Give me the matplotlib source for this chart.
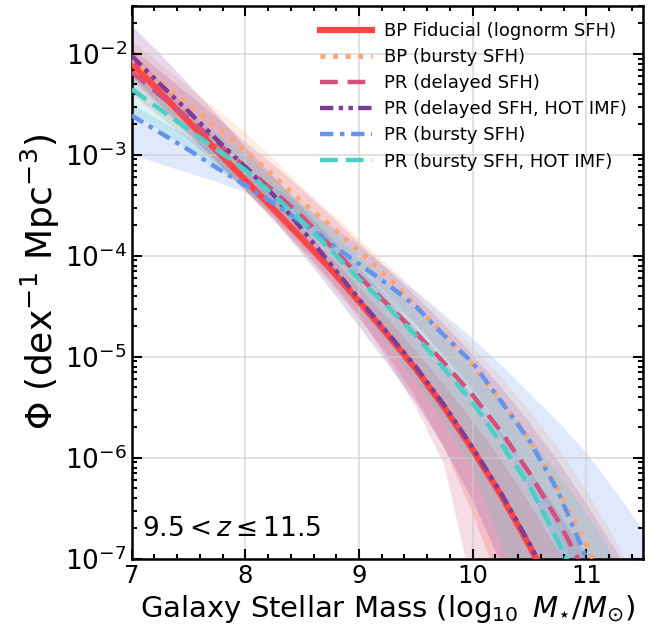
import numpy as np
import matplotlib
matplotlib.use("Agg")
import matplotlib.pyplot as plt
from matplotlib.ticker import AutoMinorLocator, LogLocator

# log10 stellar mass grid
mass = [7.0, 7.25, 7.5, 7.75, 8.0, 8.25, 8.5, 8.75, 9.0, 9.25, 9.5,
        9.75, 10.0, 10.25, 10.5, 10.75, 11.0, 11.25, 11.5]

# log10 Phi of each median curve
bp_fid = [-2.09, -2.38, -2.67, -2.96, -3.25, -3.54, -3.83, -4.13, -4.45, -4.78, -5.12,
          -5.50, -5.92, -6.37, -6.87, -7.40, -8.00, -8.60, -9.30]
bp_burst = [-2.05, -2.28, -2.50, -2.73, -2.96, -3.21, -3.47, -3.70, -3.95, -4.21, -4.49,
            -4.78, -5.08, -5.43, -5.82, -6.30, -6.85, -7.50, -8.20]
pr_delay = [-2.18, -2.41, -2.64, -2.88, -3.12, -3.36, -3.61, -3.90, -4.20, -4.48, -4.76,
            -5.06, -5.38, -5.74, -6.15, -6.62, -7.15, -7.75, -8.40]
pr_delay_hot = [-2.02, -2.30, -2.57, -2.85, -3.12, -3.40, -3.74, -4.08, -4.43, -4.76, -5.10,
                -5.48, -5.90, -6.35, -6.85, -7.40, -7.95, -8.55, -9.20]
pr_burst = [-2.61, -2.78, -2.95, -3.13, -3.30, -3.48, -3.67, -3.88, -4.08, -4.28, -4.50,
            -4.79, -5.06, -5.44, -5.83, -6.33, -6.99, -7.65, -8.40]
pr_burst_hot = [-2.35, -2.55, -2.75, -2.95, -3.15, -3.40, -3.66, -3.94, -4.23, -4.50, -4.79,
                -5.12, -5.45, -5.86, -6.28, -6.82, -7.40, -8.05, -8.70]

# 1-sigma bands (log10 Phi), same mass grid
bp_fid_lo = [-2.22, -2.50, -2.78, -3.07, -3.36, -3.65, -3.95, -4.27, -4.62, -4.98, -5.40,
             -5.90, -6.55, -7.30, -8.20, -9.20, -10.3, -11.5, -12.8]
bp_fid_hi = [-1.98, -2.27, -2.56, -2.85, -3.14, -3.43, -3.72, -4.01, -4.31, -4.62, -4.94,
             -5.28, -5.64, -6.02, -6.45, -6.92, -7.45, -8.00, -8.60]
bp_burst_lo = [-2.22, -2.44, -2.66, -2.89, -3.12, -3.37, -3.62, -3.86, -4.10, -4.37, -4.66,
               -4.98, -5.30, -5.70, -6.15, -6.70, -7.35, -8.10, -9.00]
bp_burst_hi = [-1.87, -2.10, -2.33, -2.55, -2.78, -3.04, -3.32, -3.57, -3.83, -4.08, -4.35,
               -4.62, -4.90, -5.20, -5.53, -5.90, -6.32, -6.80, -7.35]
pr_delay_lo = [-2.40, -2.62, -2.85, -3.10, -3.35, -3.62, -3.92, -4.24, -4.58, -5.03, -5.50,
               -6.07, -7.30, -8.80, -10.5, -12.0, -13.5, -15.0, -16.5]
pr_delay_hi = [-1.95, -2.17, -2.40, -2.63, -2.87, -3.10, -3.34, -3.60, -3.87, -4.13, -4.40,
               -4.68, -4.98, -5.30, -5.65, -6.03, -6.45, -6.90, -7.40]
pr_delay_hot_lo = [-2.25, -2.52, -2.80, -3.07, -3.35, -3.64, -3.98, -4.33, -4.70, -5.07, -5.45,
                   -5.90, -6.42, -7.05, -7.80, -8.70, -9.70, -10.8, -12.0]
pr_delay_hot_hi = [-1.72, -2.00, -2.30, -2.60, -2.92, -3.22, -3.52, -3.82, -4.12, -4.42, -4.72,
                   -5.04, -5.38, -5.74, -6.12, -6.53, -6.97, -7.45, -7.95]
pr_burst_lo = [-3.00, -3.09, -3.18, -3.27, -3.37, -3.52, -3.72, -3.95, -4.18, -4.42, -4.68,
               -5.00, -5.35, -5.80, -6.30, -6.90, -7.70, -8.60, -9.60]
pr_burst_hi = [-2.50, -2.66, -2.82, -2.98, -3.15, -3.32, -3.50, -3.70, -3.90, -4.12, -4.35,
               -4.58, -4.82, -5.08, -5.36, -5.64, -5.95, -6.32, -6.72]
pr_burst_hot_lo = [-2.58, -2.76, -2.95, -3.14, -3.34, -3.60, -3.88, -4.18, -4.52, -4.88, -5.25,
                   -5.65, -6.10, -6.85, -7.70, -8.60, -9.60, -10.6, -11.6]
pr_burst_hot_hi = [-2.18, -2.38, -2.58, -2.79, -3.00, -3.23, -3.48, -3.74, -4.00, -4.26, -4.53,
                   -4.82, -5.12, -5.44, -5.78, -6.15, -6.55, -7.00, -7.45]

labels = ["BP Fiducial (lognorm SFH)", "BP (bursty SFH)", "PR (delayed SFH)",
          "PR (delayed SFH, HOT IMF)", "PR (bursty SFH)", "PR (bursty SFH, HOT IMF)"]

series = [
    (bp_fid, bp_fid_lo, bp_fid_hi, "#ff4545", "-", 4.5),
    (bp_burst, bp_burst_lo, bp_burst_hi, "#ffa574", (0, (1, 1.6)), 3.5),
    (pr_delay, pr_delay_lo, pr_delay_hi, "#d4507a", (0, (4, 2.2)), 3.2),
    (pr_delay_hot, pr_delay_hot_lo, pr_delay_hot_hi, "#7d3c98", (0, (3, 1.2, 1, 1.2, 1, 1.2)), 3.2),
    (pr_burst, pr_burst_lo, pr_burst_hi, "#6495ed", (0, (3, 1.5, 1, 1.5)), 3.2),
    (pr_burst_hot, pr_burst_hot_lo, pr_burst_hot_hi, "#48d1c4", (0, (4, 1.8)), 3.2),
]

fig = plt.figure(figsize=(6.72, 6.35), dpi=100)
ax = fig.add_axes([0.196, 0.12, 0.761, 0.871])

for vals, lo, hi, col, ls, lw in series:
    ax.fill_between(mass, 10 ** np.array(lo), 10 ** np.array(hi),
                    color=col, alpha=0.2, lw=0, zorder=1)

for (vals, lo, hi, col, ls, lw), lab in zip(series, labels):
    ax.plot(mass, 10 ** np.array(vals), color=col, ls=ls, lw=lw, label=lab, zorder=3)

ax.set_yscale("log")
ax.set_xlim(7, 11.5)
ax.set_ylim(1e-7, 3e-2)
ax.xaxis.set_minor_locator(AutoMinorLocator(5))
ax.yaxis.set_minor_locator(LogLocator(base=10, subs=np.arange(2, 10)))
ax.tick_params(which="both", direction="in", top=True, right=True, width=1.5)
ax.tick_params(axis="x", labelsize=17.5)
ax.tick_params(axis="y", labelsize=19)
ax.tick_params(which="major", length=7)
ax.tick_params(which="minor", length=3.5)
ax.grid(True, which="major", color="#cccccc", lw=1.2, alpha=0.7, zorder=0)
for s in ax.spines.values():
    s.set_linewidth(1.8)

ax.set_xlabel(r"Galaxy Stellar Mass ($\log_{10}\ M_{\star}/M_{\odot}$)", fontsize=21)
ax.set_ylabel(r"$\Phi$ (dex$^{-1}$ Mpc$^{-3}$)", fontsize=26, labelpad=2)
ax.text(0.02, 0.03, r"$9.5 < z \leq 11.5$", transform=ax.transAxes, fontsize=19,
        va="bottom")

ax.legend(loc="upper right", frameon=False, fontsize=13, handlelength=2.9,
          handletextpad=0.65, labelspacing=0.45, borderaxespad=0.5)

fig.savefig("out.png", dpi=100)
